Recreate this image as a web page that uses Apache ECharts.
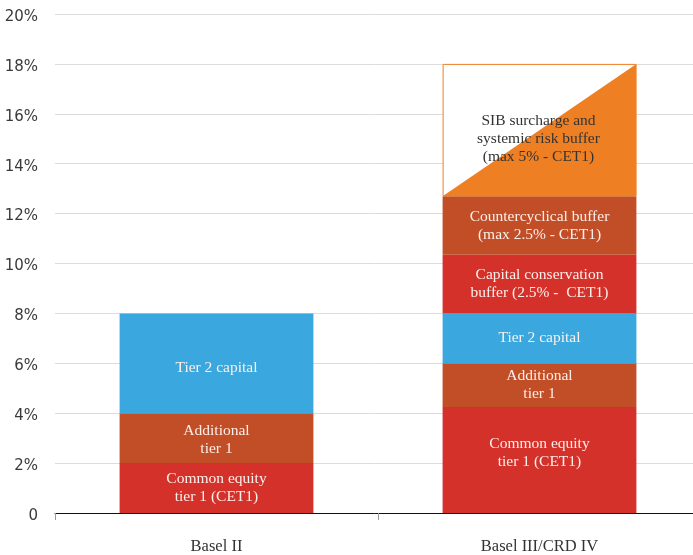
<!DOCTYPE html>
<html>
<head>
<meta charset="utf-8">
<script src="https://cdn.jsdelivr.net/npm/echarts@6/dist/echarts.min.js"></script>
<style>
  html, body { margin: 0; padding: 0; background: #fff; }
  #chart { width: 693px; height: 555px; }
</style>
</head>
<body>
<div id="chart"></div>
<script>
const categories = ['Basel II', 'Basel III/CRD IV']

// values in %, stacked bottom to top
const cet1 = [2, 4.25]
const additionalTier1 = [2, 1.75]
const tier2 = [4, 2]
const conservationBuffer = ['-', 2.35]
const countercyclicalBuffer = ['-', 2.35]
const sibBuffer = ['-', 5.3]

const yTicks = [0, 2, 4, 6, 8, 10, 12, 14, 16, 18, 20]

const colors = {
  red: '#d5312b',
  rust: '#c24e27',
  blue: '#3aa8df',
  orange: '#ee8023',
}

const serif = '"Liberation Serif", "DejaVu Serif", serif'

const innerLabel = (text, extra = {}) => ({
  show: true,
  position: 'inside',
  formatter: text,
  color: '#fbefea',
  fontFamily: serif,
  fontSize: 15.5,
  lineHeight: 18,
  ...extra,
})

const barSeries = (name, data, color, text, offsets = []) => ({
  name,
  type: 'bar',
  stack: 'total',
  barWidth: '60%',
  data: data.map((v, i) => ({
    value: v,
    label: offsets[i] ? { offset: offsets[i] } : undefined,
  })),
  itemStyle: { color },
  label: innerLabel(text),
  silent: true,
})

// base and top of the SIB block for Basel III
const sibIndex = 1
const sibBase = cet1[sibIndex] + additionalTier1[sibIndex] + tier2[sibIndex] +
  conservationBuffer[sibIndex] + countercyclicalBuffer[sibIndex]
const sibTop = sibBase + sibBuffer[sibIndex]

const chart = echarts.init(document.getElementById('chart'))

chart.setOption({
  animation: false,
  // the plot runs a little past the right edge of the picture
  grid: { left: 55, right: -8, top: 14, bottom: 42, outerBoundsMode: 'none', containLabel: false },
  xAxis: {
    type: 'category',
    data: categories,
    axisLine: { lineStyle: { color: '#111', width: 1 } },
    axisTick: { show: true, length: 7, lineStyle: { color: '#9a9a9a' } },
    axisLabel: {
      color: '#333',
      fontFamily: serif,
      fontSize: 16.5,
      margin: 25,
    },
  },
  yAxis: {
    type: 'value',
    min: yTicks[0],
    max: yTicks[yTicks.length - 1],
    interval: 2,
    axisLine: { show: false },
    axisTick: { show: false },
    splitLine: { lineStyle: { color: '#dcdcdc', width: 1 } },
    axisLabel: {
      margin: 17,
      formatter: (v) => '{t|' + (v === 0 ? '0' : v + '%') + '}',
      rich: {
        t: {
          color: '#3a3a3a',
          fontFamily: '"DejaVu Sans", sans-serif',
          fontSize: 15,
          padding: [6, 0, 0, 0],
        },
      },
    },
  },
  series: [
    barSeries('CET1', cet1, colors.red, 'Common equity\ntier 1 (CET1)', [null, [0, -7]]),
    barSeries('AT1', additionalTier1, colors.rust, 'Additional\ntier 1', [[0, 2], null]),
    barSeries('Tier 2', tier2, colors.blue, 'Tier 2 capital', [[0, 5], null]),
    barSeries('CCB', conservationBuffer, colors.red, 'Capital conservation\nbuffer (2.5% -  CET1)'),
    barSeries('CCyB', countercyclicalBuffer, colors.rust, 'Countercyclical buffer\n(max 2.5% - CET1)'),
    {
      name: 'SIB',
      type: 'bar',
      stack: 'total',
      barWidth: '60%',
      data: sibBuffer,
      itemStyle: { color: '#fff', borderColor: colors.orange, borderWidth: 1 },
      silent: true,
    },
    {
      name: 'SIB triangle',
      type: 'custom',
      silent: true,
      z: 5,
      data: [[sibIndex, sibBase, sibTop]],
      renderItem: (params, api) => {
        const lo = api.coord([api.value(0), api.value(1)])
        const hi = api.coord([api.value(0), api.value(2)])
        const w = api.size([1, 0])[0] * 0.6
        const x0 = lo[0] - w / 2
        const x1 = lo[0] + w / 2
        return {
          type: 'group',
          children: [
            {
              type: 'polygon',
              shape: { points: [[x0, lo[1]], [x1, lo[1]], [x1, hi[1]]] },
              style: { fill: colors.orange },
            },
            {
              type: 'text',
              x: lo[0] - 1,
              y: (lo[1] + hi[1]) / 2 + 9,
              style: {
                text: 'SIB surcharge and\nsystemic risk buffer\n(max 5% - CET1)',
                fill: '#333',
                font: '15.5px ' + serif,
                lineHeight: 18,
                align: 'center',
                verticalAlign: 'middle',
              },
            },
          ],
        }
      },
    },
  ],
})
</script>
</body>
</html>
